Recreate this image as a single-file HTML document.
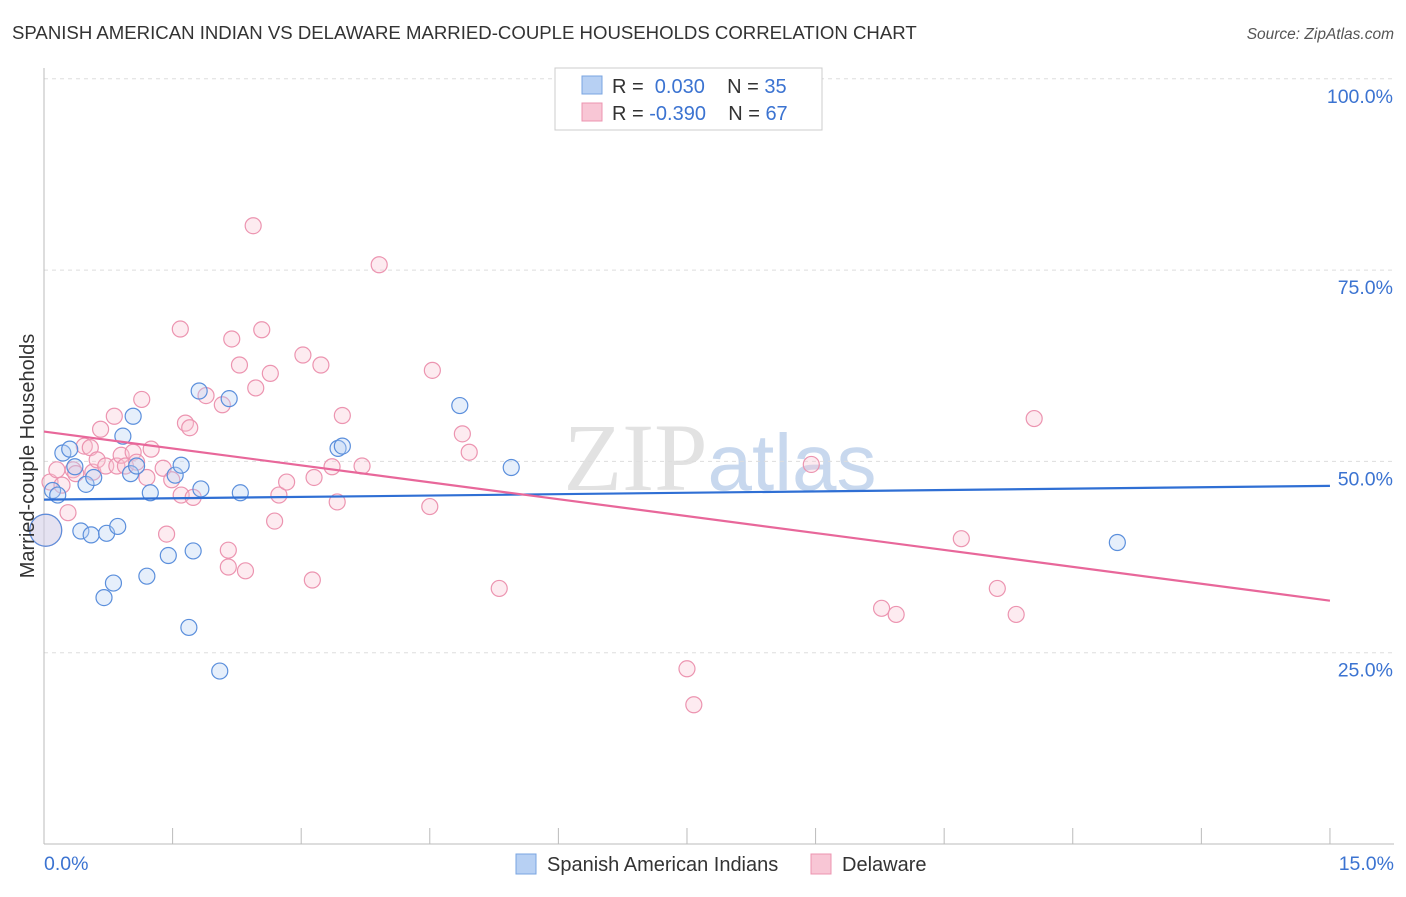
<!DOCTYPE html>
<html><head><meta charset="utf-8"><style>
body{margin:0;background:#fff;font-family:"Liberation Sans",sans-serif;}
</style></head><body>
<svg width="1406" height="892" xmlns="http://www.w3.org/2000/svg" font-family="Liberation Sans, sans-serif">
<text x="12" y="39" font-size="18.6" fill="#333">SPANISH AMERICAN INDIAN VS DELAWARE MARRIED-COUPLE HOUSEHOLDS CORRELATION CHART</text>
<text x="1394" y="39" font-size="15.5" fill="#555" font-style="italic" text-anchor="end">Source: ZipAtlas.com</text>
<text x="720" y="490" font-size="96" fill="#e2e2e2" text-anchor="middle" font-family="Liberation Serif, serif">ZIP<tspan fill="#c8d8ee" font-family="Liberation Sans, sans-serif" font-size="80">atlas</tspan></text>
<g id="grid"></g><g id="axes"></g><g id="marks"></g>
<text x="34" y="456" font-size="20" fill="#333" text-anchor="middle" transform="rotate(-90 34 456)">Married-couple Households</text>
<text x="44" y="870" font-size="19.5" fill="#3b73d1">0.0%</text>
<text x="1394" y="870" font-size="19.5" fill="#3b73d1" text-anchor="end">15.0%</text>
<g>
<rect x="555" y="68" width="267" height="62" fill="#fff" stroke="#ccc"/>
<rect x="582" y="76" width="20" height="18" fill="#b7d0f3" stroke="#7aa4e0"/>
<rect x="582" y="103" width="20" height="18" fill="#f8c6d5" stroke="#ec94b0"/>
<text x="612" y="93" font-size="20" fill="#333">R = <tspan fill="#3b73d1">&#160;0.030</tspan>&#160;&#160;&#160;&#160;N = <tspan fill="#3b73d1">35</tspan></text>
<text x="612" y="120" font-size="20" fill="#333">R = <tspan fill="#3b73d1">-0.390</tspan>&#160;&#160;&#160;&#160;N = <tspan fill="#3b73d1">67</tspan></text>
</g>
<g>
<rect x="516" y="854" width="20" height="20" fill="#b7d0f3" stroke="#7aa4e0"/>
<text x="547" y="871" font-size="20" fill="#333">Spanish American Indians</text>
<rect x="811" y="854" width="20" height="20" fill="#f8c6d5" stroke="#ec94b0"/>
<text x="842" y="871" font-size="20" fill="#333">Delaware</text>
</g>
</svg>
<script>
const yTicks=[25,50,75,100];
const yTickLabels=["25.0%","50.0%","75.0%","100.0%"];
const blueX=[0.1,0.16,0.22,0.3,0.36,0.49,0.58,0.43,0.55,0.73,0.86,0.7,0.81,0.92,1.04,1.01,1.08,1.2,1.24,1.45,1.53,1.6,1.69,1.74,1.81,1.83,2.05,2.16,2.29,3.43,3.48,4.85,5.45,12.52,0.02];
const blueY=[46.2,45.6,51.1,51.6,49.3,47.0,47.9,40.9,40.4,40.6,41.5,32.2,34.1,53.3,55.9,48.4,49.4,35.0,45.9,37.7,48.2,49.5,28.3,38.3,59.2,46.4,22.6,58.2,45.9,51.7,52.0,57.3,49.2,39.4,41.0];
const pinkX=[0.07,0.15,0.21,0.28,0.34,0.37,0.47,0.54,0.57,0.62,0.66,0.72,0.82,0.85,0.9,0.95,1.04,1.08,1.14,1.2,1.25,1.39,1.43,1.49,1.59,1.6,1.65,1.7,1.74,1.89,2.08,2.15,2.19,2.15,2.28,2.35,2.44,2.47,2.54,2.64,2.69,2.74,2.83,3.02,3.13,3.15,3.23,3.36,3.42,3.48,3.71,3.91,4.5,4.53,4.88,4.96,5.31,7.5,7.58,8.95,9.77,9.94,10.7,11.12,11.34,11.55,0.02];
const pinkY=[47.3,48.9,46.9,43.3,48.9,48.4,52.0,51.8,48.6,50.2,54.2,49.4,55.9,49.4,50.8,49.4,51.2,49.9,58.1,47.9,51.6,49.1,40.5,47.6,67.3,45.6,55.0,54.4,45.3,58.6,57.4,38.4,66.0,36.2,62.6,35.7,80.8,59.6,67.2,61.5,42.2,45.6,47.3,63.9,34.5,47.9,62.6,49.3,44.7,56.0,49.4,75.7,44.1,61.9,53.6,51.2,33.4,22.9,18.2,49.6,30.8,30.0,39.9,33.4,30.0,55.6,41.0];
const blueTrend=[45.0,46.8];
const pinkTrend=[53.9,31.8];
const X=v=>44+v*85.73, Y=v=>844-v*7.652;
const NS="http://www.w3.org/2000/svg";
function mk(tag,attrs,parent){const e=document.createElementNS(NS,tag);for(const k in attrs)e.setAttribute(k,attrs[k]);document.getElementById(parent).appendChild(e);return e;}
yTicks.forEach((t,i)=>{
 const l=mk('line',{x1:44,x2:1394,y1:Y(t),y2:Y(t),stroke:'#ddd','stroke-dasharray':'4,4'},'grid');
 
 
 const tx=mk('text',{x:1393,y:Y(t)+24,'font-size':19.5,fill:'#3b73d1','text-anchor':'end'},'grid');
 tx.textContent=yTickLabels[i];
 
 
});
const ax=mk('line',{x1:44,x2:44,y1:68,y2:844,stroke:'#bbb'},'axes');


const bx=mk('line',{x1:44,x2:1394,y1:844,y2:844,stroke:'#bbb'},'axes');


for(let i=0;i<=10;i++){
 const t=mk('line',{x1:X(i*1.5),x2:X(i*1.5),y1:828,y2:844,stroke:'#bbb'},'axes');
 
 
}
function dots(xs,ys,fill,stroke,name){
 xs.forEach((x,i)=>{
  const big=i===xs.length-1;
  const c=mk('circle',{cx:X(x),cy:Y(ys[i]),r:big?16:8,fill:fill,'fill-opacity':0.35,stroke:stroke,'stroke-width':1.2},'marks');
  
  
 });
}
dots(pinkX,pinkY,'#f8c6d5','#ec94b0','delaware-point');
dots(blueX,blueY,'#b7d0f3','#5b8fdc','spanish-american-indian-point');
const bl=mk('line',{x1:X(0),x2:X(15),y1:Y(blueTrend[0]),y2:Y(blueTrend[1]),stroke:'#2f6fd4','stroke-width':2.2},'marks');


const pl=mk('line',{x1:X(0),x2:X(15),y1:Y(pinkTrend[0]),y2:Y(pinkTrend[1]),stroke:'#e8679a','stroke-width':2.2},'marks');


</script>
</body></html>
